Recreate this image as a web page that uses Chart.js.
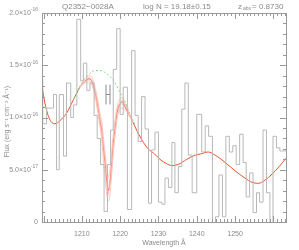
<!DOCTYPE html>
<html>
<head>
<meta charset="utf-8">
<script src="https://cdn.jsdelivr.net/npm/chart.js@4"></script>
<style>
  body { margin: 0; background: #fff; }
  #box { width: 299px; height: 250px; }
</style>
</head>
<body>
<div id="box"><canvas id="specChart" width="299" height="250"></canvas></div>
<script>
// flux in units of 1e-16 erg s-1 cm-2 A-1
var histEdges = [1199.3,1199.8,1200.8,1202.6,1203.4,1204.1,1205.2,1206.0,1207.1,1207.8,1208.7,1209.7,1210.4,1211.3,1212.1,1213.2,1214.0,1214.9,1215.8,1216.7,1217.5,1218.2,1219.1,1220.0,1220.8,1221.9,1223.0,1223.9,1224.7,1225.6,1226.5,1227.4,1228.2,1229.1,1230.0,1230.9,1231.7,1232.6,1233.5,1234.3,1235.2,1236.1,1236.9,1237.8,1238.8,1240.0,1241.3,1242.2,1243.1,1244.1,1244.9,1245.8,1246.7,1247.6,1248.5,1249.4,1250.3,1251.2,1252.1,1252.9,1253.8,1254.7,1255.6,1256.4,1257.3,1258.2,1259.1,1259.9,1260.8,1261.7,1262.5,1263.4];
var histFlux = [0.95,1.37,0.94,1.09,1.22,0.50,1.22,0.63,1.33,1.00,1.12,1.94,1.35,1.52,1.26,1.33,1.02,0.80,0.55,0.10,0.55,0.88,1.46,1.85,1.03,1.29,0.12,1.64,1.02,0.77,1.20,0.89,0.18,0.69,0.86,0.19,0.17,0.42,0.33,0.76,0.28,0.53,1.08,1.33,0.64,0.28,1.03,0.67,0.92,0.82,-0.02,0.05,0.45,0.05,0.82,0.67,0.73,0.55,0.84,0.57,0.24,0.47,0.09,0.28,0.19,0.88,0.28,-0.02,0.82,0.71,0.68,0.68];

// best fit
var fitWave = [1199.6,1200.4,1201.2,1202.0,1203.0,1204.3,1206.0,1207.8,1209.5,1210.8,1211.9,1212.7,1213.4,1214.2,1214.7,1215.3,1215.6,1216.1,1216.5,1216.9,1217.4,1217.8,1218.2,1218.7,1219.2,1219.8,1220.5,1221.3,1222.3,1223.4,1224.7,1226.1,1227.3,1228.7,1230.4,1232.0,1233.5,1235.1,1237.4,1239.6,1240.9,1243.0,1244.8,1247.4,1250.0,1252.6,1254.4,1256.1,1257.8,1259.7,1261.5,1263.3];
var fitFlux = [1.30,1.13,1.02,0.96,0.94,0.97,1.04,1.17,1.29,1.35,1.37,1.34,1.25,1.10,0.98,0.85,0.72,0.55,0.40,0.30,0.40,0.57,0.75,0.91,1.05,1.12,1.15,1.10,1.03,0.95,0.85,0.76,0.70,0.66,0.60,0.56,0.54,0.55,0.60,0.64,0.65,0.67,0.64,0.57,0.49,0.42,0.38,0.37,0.40,0.46,0.53,0.61];

// alternative fits (N +/- error, b variations)
var altWave = [1209.5,1210.8,1211.9,1212.7,1213.4,1214.2,1214.7,1215.3,1215.6,1216.1,1216.5,1216.9,1217.4,1217.8,1218.2,1218.7,1219.2,1219.8,1220.5,1221.3,1222.3,1223.4];
var altFluxA = [1.29,1.33,1.34,1.30,1.21,1.04,0.91,0.75,0.60,0.40,0.26,0.20,0.28,0.46,0.66,0.84,0.99,1.07,1.09,1.07,1.02,0.95];
var altFluxB = [1.29,1.37,1.40,1.38,1.30,1.16,1.05,0.93,0.82,0.66,0.52,0.43,0.52,0.68,0.84,0.98,1.10,1.17,1.19,1.13,1.04,0.95];
var altFluxC = [1.29,1.35,1.38,1.35,1.27,1.12,1.00,0.88,0.76,0.60,0.45,0.35,0.36,0.50,0.68,0.85,1.00,1.10,1.17,1.13,1.05,0.95];
var altFluxD = [1.29,1.34,1.36,1.32,1.23,1.07,0.95,0.81,0.68,0.50,0.34,0.26,0.44,0.62,0.79,0.94,1.07,1.13,1.13,1.09,1.03,0.95];

// continuum without the absorber
var contWave = [1208.0,1209.5,1210.8,1212.1,1213.4,1214.7,1216.1,1217.4,1218.7,1220.0,1221.3,1222.6,1223.9];
var contFlux = [1.19,1.30,1.37,1.42,1.45,1.45,1.43,1.39,1.33,1.24,1.15,1.03,0.93];

// error bar marker
var errWave = 1216.83, errFlux = 1.22, errSigma = 0.095, errHalfWidth = 0.52;

var xMin = 1199.6, xMax = 1263.3;
var xTickVals = [1210, 1220, 1230, 1240, 1250];
var yTickVals = [0, 0.5, 1.0, 1.5, 2.0];
var yTickMant = ['0', '5.0\u00d710', '1.0\u00d710', '1.5\u00d710', '2.0\u00d710'];
var yTickExp = ['', '-17', '-16', '-16', '-16'];

var axisColor = '#9a9a9a';
var textColor = '#8a8a8a';
var fontName = '"Liberation Sans", "DejaVu Sans", sans-serif';

function pts(xs, ys) {
    var out = [];
    for (var i = 0; i < xs.length; i++) out.push({x: xs[i], y: ys[i]});
    return out;
}

var errPts = [
    {x: errWave - errHalfWidth, y: errFlux - errSigma}, {x: errWave - errHalfWidth, y: errFlux + errSigma}, {x: null, y: null},
    {x: errWave + errHalfWidth, y: errFlux - errSigma}, {x: errWave + errHalfWidth, y: errFlux + errSigma}, {x: null, y: null},
    {x: errWave - errHalfWidth, y: errFlux}, {x: errWave + errHalfWidth, y: errFlux}
];

function lineSet(data, color, extra) {
    var d = {data: data, borderColor: color, borderWidth: 1, pointRadius: 0, fill: false, tension: 0};
    for (var k in extra) d[k] = extra[k];
    return d;
}

// frame, inward ticks and all text
var framePlugin = {
    id: 'frame',
    afterDraw: function (chart) {
        var ctx = chart.ctx, a = chart.chartArea, xs = chart.scales.x, ys = chart.scales.y;
        ctx.save();
        ctx.strokeStyle = axisColor;
        ctx.lineWidth = 1;
        ctx.strokeRect(Math.round(a.left) + 0.5, Math.round(a.top) + 0.5, Math.round(a.width), Math.round(a.height));
        ctx.beginPath();
        for (var w = 1200; w <= 1263; w++) {
            var px = Math.round(xs.getPixelForValue(w)) + 0.5;
            var len = (w % 10 === 0) ? 6 : 3;
            ctx.moveTo(px, a.bottom); ctx.lineTo(px, a.bottom - len);
            ctx.moveTo(px, a.top); ctx.lineTo(px, a.top + len);
        }
        for (var v = 0; v <= 20; v++) {
            var py = Math.round(ys.getPixelForValue(v / 10)) + 0.5;
            var ylen = (v % 5 === 0) ? 6 : 3;
            ctx.moveTo(a.left, py); ctx.lineTo(a.left + ylen, py);
            ctx.moveTo(a.right, py); ctx.lineTo(a.right - ylen, py);
        }
        ctx.stroke();

        ctx.fillStyle = textColor;
        // x tick labels
        ctx.font = '7px ' + fontName;
        ctx.textAlign = 'center';
        ctx.textBaseline = 'middle';
        xTickVals.forEach(function (t) {
            ctx.fillText(String(t), xs.getPixelForValue(t), a.bottom + 12);
        });
        ctx.fillText('Wavelength \u00c5', (a.left + a.right) / 2, a.bottom + 21);

        // y tick labels with exponents
        yTickVals.forEach(function (t, i) {
            var py = ys.getPixelForValue(t);
            ctx.textAlign = 'right';
            var right = a.left - 4;
            if (yTickExp[i]) {
                ctx.font = '5px ' + fontName;
                var ew = ctx.measureText(yTickExp[i]).width;
                ctx.fillText(yTickExp[i], right, py - 3);
                ctx.font = '7px ' + fontName;
                ctx.fillText(yTickMant[i], right - ew, py);
            } else {
                ctx.font = '7px ' + fontName;
                ctx.fillText(yTickMant[i], right, py);
            }
        });

        // y title
        ctx.save();
        ctx.translate(7, (a.top + a.bottom) / 2 + 4);
        ctx.rotate(-Math.PI / 2);
        ctx.textAlign = 'center';
        ctx.font = '7px ' + fontName;
        ctx.fillText('Flux (erg s\u207b\u00b9 cm\u207b\u00b2 \u00c5\u207b\u00b9)', 0, 0);
        ctx.restore();

        // title line
        ctx.font = '8px ' + fontName;
        ctx.textAlign = 'left';
        ctx.fillText('Q2352\u22120028A', 62, 7);
        ctx.fillText('log N = 19.18\u00b10.15', 143, 7);
        ctx.fillText('z', 238, 7);
        ctx.font = '5px ' + fontName;
        ctx.fillText('abs', 243, 9);
        ctx.font = '8px ' + fontName;
        ctx.fillText('= 0.8730', 252, 7);
        ctx.restore();
    }
};

new Chart(document.getElementById('specChart'), {
    type: 'line',
    data: {
        datasets: [
            lineSet(pts(histEdges, histFlux), '#b8b8b8', {stepped: 'after'}),
            lineSet(pts(altWave, altFluxA), '#fbbcb2', {borderWidth: 0.8, cubicInterpolationMode: 'monotone'}),
            lineSet(pts(altWave, altFluxB), '#fbbcb2', {borderWidth: 0.8, cubicInterpolationMode: 'monotone'}),
            lineSet(pts(altWave, altFluxC), '#fbbcb2', {borderWidth: 0.8, cubicInterpolationMode: 'monotone'}),
            lineSet(pts(altWave, altFluxD), '#fbbcb2', {borderWidth: 0.8, cubicInterpolationMode: 'monotone'}),
            lineSet(pts(contWave, contFlux), '#7fe07f', {borderDash: [2, 2], cubicInterpolationMode: 'monotone'}),
            lineSet(pts(fitWave, fitFlux), '#e8522f', {cubicInterpolationMode: 'monotone'}),
            lineSet(errPts, '#8c8c8c', {spanGaps: false})
        ]
    },
    options: {
        responsive: false,
        animation: false,
        layout: {padding: {left: 42, right: 13, top: 13, bottom: 28}},
        plugins: {legend: {display: false}, tooltip: {enabled: false}, title: {display: false}},
        scales: {
            x: {type: 'linear', min: xMin, max: xMax, display: false},
            y: {type: 'linear', min: 0, max: 2.0, display: false}
        }
    },
    plugins: [framePlugin]
});
</script>
</body>
</html>
